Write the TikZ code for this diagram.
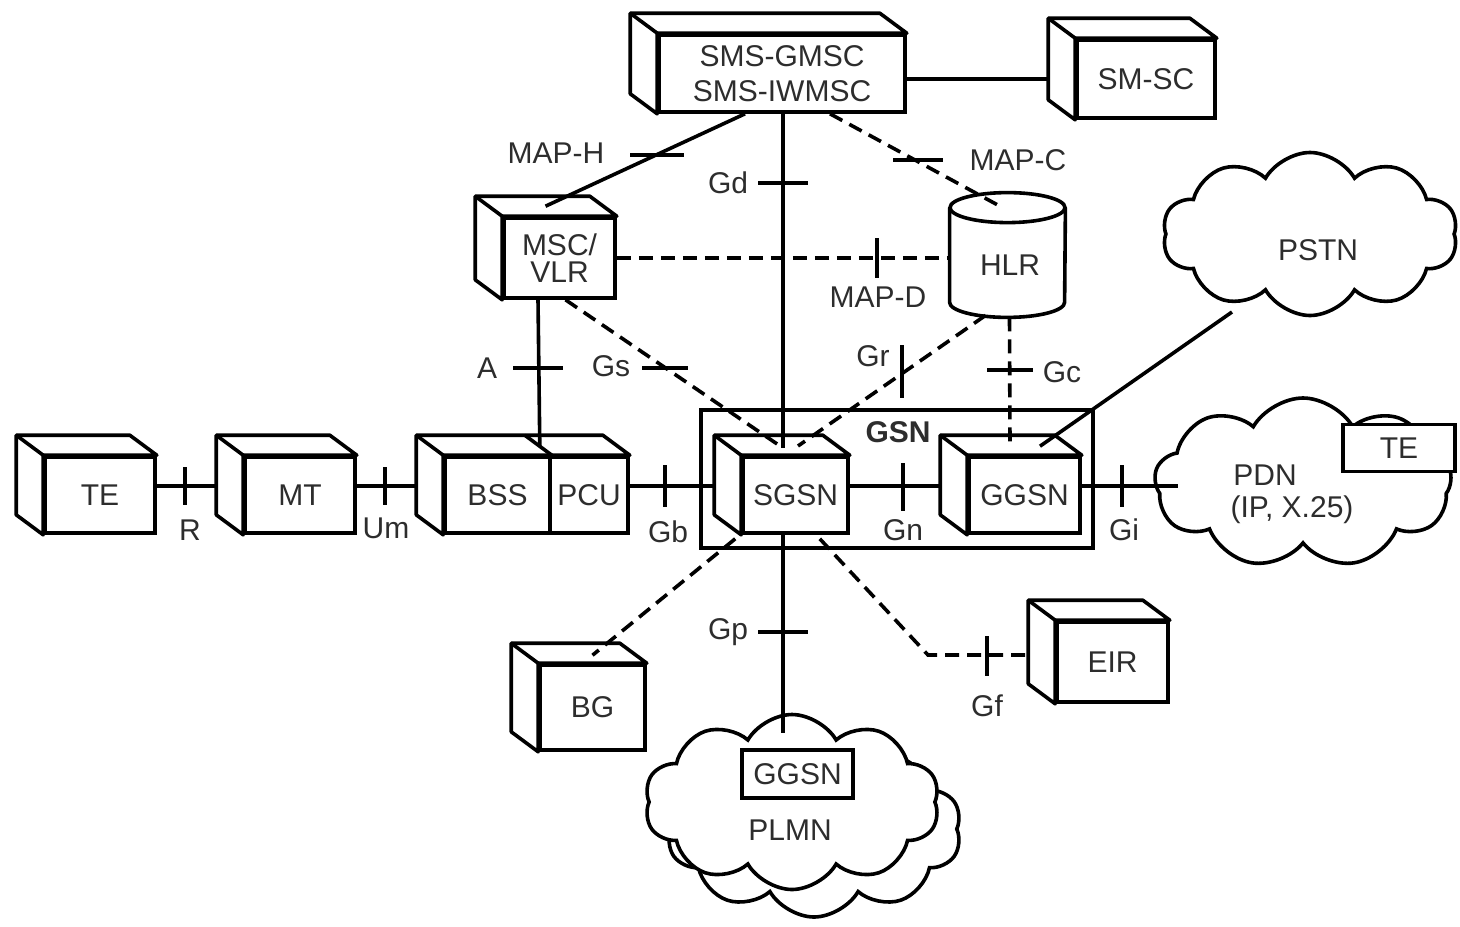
\documentclass[tikz,border=0pt]{standalone}
\usepackage{fontspec}
\setmainfont{Liberation Sans}
\usetikzlibrary{calc,shapes.symbols}
\newcommand\lblfont{\fontsize{15}{17}\selectfont}
\definecolor{txt}{RGB}{45,45,45}
\newcommand\cubeside[1]{%
  \draw[lw,fill=white,line join=round] (#1.south west) -- ++(-27,-20) -- ($(#1.north west)+(-27,-20)$) -- ($(#1.north east)+(-27,-20)$) -- (#1.north east) -- (#1.north west) -- cycle;
  \draw[lw] (#1.north west) -- ++(-27,-20);}
\begin{document}
\begin{tikzpicture}[x=0.5pt,y=-0.5pt,
  lw/.style={line width=1.8pt},
  front/.style={draw,lw,fill=white,inner sep=0pt,font=\lblfont,text=txt,align=center},
  conn/.style={lw},
  dconn/.style={lw,dash pattern=on 7pt off 4pt},
  tick/.style={line width=1.7pt},
  lab/.style={font=\lblfont,text=txt,inner sep=0pt},
  cloudy/.style={cloud,draw,lw,fill=white,cloud puffs=10,cloud puff arc=120,cloud ignores aspect,inner sep=0pt}]
\useasboundingbox (0,0) rectangle (1460,926);

% GSN frame
\node[draw,lw,inner sep=0pt,minimum width=196pt,minimum height=69pt] (gsn) at (897,479) {};
\node[lab,font=\lblfont\bfseries] (gsnl) at (898,432) {GSN};

% clouds
\node[cloudy,minimum width=147.5pt,minimum height=81.5pt] (pstn) at (1310,234) {};
\node[lab] (pstnl) at (1318,250) {PSTN};
\node[cloudy,cloud puffs=9,minimum width=148.5pt,minimum height=85pt] (pdn) at (1303,483) {};
\node[lab] (pdnl) at (1265,475) {PDN};
\node[lab] (pdnl2) at (1292,510) {(IP, X.25)};
\node[front,minimum width=56pt,minimum height=23.5pt] (te2) at (1399,448) {TE};
\node[cloudy,minimum width=147.5pt,minimum height=88pt] (plmnb) at (814,829) {};
\node[cloudy,minimum width=147.5pt,minimum height=87.5pt] (plmn) at (792,802) {};
\node[front,minimum width=55.5pt,minimum height=24pt] (ggsn2) at (797.5,774) {GGSN};
\node[lab] (plmnl) at (790,830) {PLMN};

% boxes
\node[front,minimum width=55pt,minimum height=38pt] (te) at (100,495) {TE};
\node[front,minimum width=55pt,minimum height=38pt] (mt) at (300,495) {MT};
\node[front,minimum width=52.5pt,minimum height=38pt] (bss) at (497.5,495) {BSS};
\node[front,minimum width=39pt,minimum height=38pt] (pcu) at (589,495) {PCU};
\node[front,minimum width=52.5pt,minimum height=38pt] (sgsn) at (795.5,495) {SGSN};
\node[front,minimum width=55.5pt,minimum height=38pt] (ggsn) at (1024.5,495) {GGSN};
\node[front,minimum width=123pt,minimum height=38.5pt,font=\fontsize{15}{17.5}\selectfont] (sms) at (782,73.5) {SMS-GMSC\\SMS-IWMSC};
\node[front,minimum width=69pt,minimum height=39pt] (smsc) at (1146,79) {SM-SC};
\node[front,minimum width=55.5pt,minimum height=40pt,font=\fontsize{15}{13.5}\selectfont] (msc) at (559.5,258) {MSC/\\VLR};
\node[front,minimum width=52.5pt,minimum height=42.5pt] (bg) at (592.5,707.5) {BG};
\node[front,minimum width=55.5pt,minimum height=40pt] (eir) at (1112.5,662) {EIR};
\cubeside{te}
\cubeside{mt}
\cubeside{sgsn}
\cubeside{ggsn}
\cubeside{sms}
\cubeside{smsc}
\cubeside{msc}
\cubeside{bg}
\cubeside{eir}
% BSS+PCU combined cube
\draw[lw,fill=white,line join=round] (bss.south west) -- ++(-27,-20) -- ($(bss.north west)+(-27,-20)$) -- ($(pcu.north east)+(-27,-20)$) -- (pcu.north east) -- (bss.north west) -- cycle;
\draw[lw] (bss.north west) -- ++(-27,-20);
\draw[lw] (bss.north east) -- ++(-27,-20);

% HLR cylinder
\node[inner sep=0pt,minimum width=57.5pt,minimum height=47pt] (hlr) at (1007.5,255) {};
\filldraw[lw,fill=white] (hlr.north west) -- (hlr.south west) arc[start angle=180,end angle=360,x radius=28.75pt,y radius=7.5pt] -- (hlr.north east);
\draw[lw,fill=white] (hlr.north) ellipse[x radius=28.75pt,y radius=7.5pt];
\node[lab] (hlrl) at (1010,265) {HLR};

% coordinates
\coordinate (row) at (0,486);
\coordinate (sgsnTop) at (783,448);
\coordinate (grEnd) at (798,446);
\coordinate (mapd) at (0,258);
\coordinate (gfbend) at (928,655);
\coordinate (plmnIn) at (783,733);
\coordinate (pstnOut) at (1232,312);

% connectors
\draw[conn] (sms.east |- smsc.west) -- ($(smsc.west)+(-27,0)$);
\draw[conn] ($(sms.south)+(-37,0)$) -- ($(msc.north)+(-14,-10)$);
\draw[conn] ($(sms.south)+(1,0)$) -- (sgsnTop);
\draw[dconn] ($(sms.south)+(48,0)$) -- ($(hlr.north)+(-5,0)$);
\draw[dconn] (msc.east |- mapd) -- (hlr.west |- mapd);
\draw[conn] ($(msc.south)+(-21.5,0)$) -- ($(bss.north east)+(-12,-9)$);
\draw[dconn] ($(msc.south)+(6,0)$) -- (sgsnTop);
\draw[dconn] ($(hlr.south)+(-22,13)$) -- (grEnd);
\draw[dconn] ($(hlr.south)+(2,15)$) -- ($(ggsn.north)+(-14.5,-7)$);
\draw[conn] (pstnOut) -- ($(ggsn.north)+(15.5,-9)$);
\draw[conn] (te.east |- row) -- ($(mt.west |- row)+(-27,0)$);
\draw[conn] (mt.east |- row) -- ($(bss.west |- row)+(-27,0)$);
\draw[conn] (pcu.east |- row) -- ($(sgsn.west |- row)+(-27,0)$);
\draw[conn] (sgsn.east |- row) -- ($(ggsn.west |- row)+(-27,0)$);
\draw[conn] (ggsn.east |- row) -- ($(pdn.west |- row)+(25,0)$);
\draw[dconn] ($(sgsn.south west)+(-6,4)$) -- ($(bg.north)+(0,-8)$);
\draw[conn] ($(sgsn.south)+(-12.5,0)$) -- (plmnIn);
\draw[dconn] ($(sgsn.south east)+(-30,4)$) -- (gfbend) -- ($(eir.west |- gfbend)+(-27,0)$);

% ticks
\draw[tick] (630,155) -- (684,155);
\draw[tick] (758,183) -- (808,183);
\draw[tick] (893,160) -- (943,160);
\draw[tick] (877,238) -- (877,278);
\draw[tick] (513,368) -- (563,368);
\draw[tick] (642,368) -- (688,368);
\draw[tick] (902,345) -- (902,398);
\draw[tick] (987,370) -- (1033,370);
\draw[tick] (185,467) -- (185,505);
\draw[tick] (385,467) -- (385,505);
\draw[tick] (665,465) -- (665,507);
\draw[tick] (903,463) -- (903,511);
\draw[tick] (1122,465) -- (1122,507);
\draw[tick] (758,632) -- (808,632);
\draw[tick] (987,636) -- (987,676);

% labels
\node[lab] (lmaph) at (556,153) {MAP-H};
\node[lab] (lgd) at (728,183) {Gd};
\node[lab] (lmapc) at (1018,160) {MAP-C};
\node[lab] (lmapd) at (878,297) {MAP-D};
\node[lab] (la) at (487,368) {A};
\node[lab] (lgs) at (611,366) {Gs};
\node[lab] (lgr) at (873,356) {Gr};
\node[lab] (lgc) at (1062,372) {Gc};
\node[lab] (lr) at (190,530) {R};
\node[lab] (lum) at (386,528) {Um};
\node[lab] (lgb) at (668,532) {Gb};
\node[lab] (lgn) at (903,530) {Gn};
\node[lab] (lgi) at (1124,530) {Gi};
\node[lab] (lgp) at (728,632) {Gp};
\node[lab] (lgf) at (987,706) {Gf};
\end{tikzpicture}
\end{document}
